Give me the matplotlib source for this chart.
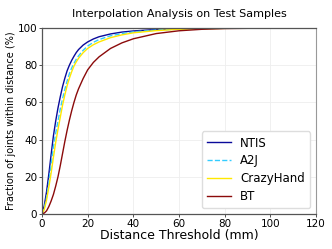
import matplotlib
matplotlib.use("Agg")
import matplotlib.pyplot as plt

# distance thresholds (mm) and fraction of joints within (%)
dist = [0, 1, 2, 3, 4, 5, 6, 7, 8, 9, 10, 11, 12, 13, 14, 15, 16, 18, 20, 22.5, 25, 30, 35, 40,
        50, 60, 70, 80, 100, 120]

ntis = [0, 4.5, 12, 21.5, 32, 42, 50, 57, 63, 68.5, 73, 77, 80, 82.6, 84.8, 86.8, 88.4, 90.8, 92.5,
        94.1, 95.3, 96.8, 97.8, 98.4, 99.2, 99.6, 99.8, 99.9, 100, 100]
a2j = [0, 3, 9, 17, 27, 36, 43.5, 50, 56.5, 62, 67, 71.5, 75.5, 78.5, 81, 83.2, 85, 88, 90.3, 92.3,
       93.8, 95.8, 97, 97.9, 98.9, 99.4, 99.7, 99.85, 99.95, 100]
crazyhand = [0, 2.5, 7.5, 14.5, 22, 30.5, 38.5, 45.5, 52, 58.5, 64, 69, 73, 76.5, 79.5, 81.8, 83.7,
             86.7, 89, 91, 92.5, 94.8, 96.3, 97.4, 98.6, 99.3, 99.6, 99.8, 99.95, 100]
bt = [0, 0.5, 1.7, 4, 7, 10.5, 15, 20, 26, 32.5, 39, 45, 50.5, 55.5, 60, 64, 67.3, 72.8, 77.5, 81.5,
      84.5, 89, 92, 94.2, 97, 98.5, 99.3, 99.7, 99.95, 100]

fig = plt.figure(figsize=(3.32, 2.49), dpi=100)
ax = fig.add_axes([0.1265, 0.1406, 0.8255, 0.747])

ax.plot(dist, ntis, color='#0a0a9a', lw=1.0, label='NTIS')
ax.plot(dist, a2j, color='#33ccff', lw=1.0, ls='--', label='A2J')
ax.plot(dist, crazyhand, color='#ffe800', lw=1.0, label='CrazyHand')
ax.plot(dist, bt, color='#8b0a0a', lw=1.0, label='BT')

ax.set_xlim(0, 120)
ax.set_ylim(0, 100)
ax.set_xticks(range(0, 121, 20))
ax.set_yticks(range(0, 101, 20))
ax.tick_params(labelsize=7.5, length=2, width=0.6, pad=1.5, colors='#333333', labelcolor='black')
ax.grid(True, color='#eeeeee', lw=0.6)
ax.set_axisbelow(True)

for side in ['left', 'bottom', 'top']:
    ax.spines[side].set_color('#555555')
    ax.spines[side].set_linewidth(0.9)
ax.spines['right'].set_color('#999999')
ax.spines['right'].set_linewidth(0.8)

ax.set_xlabel('Distance Threshold (mm)', fontsize=9, labelpad=0)
ax.set_ylabel('Fraction of joints within distance (%)', fontsize=7, labelpad=1)
ax.set_title('Interpolation Analysis on Test Samples', fontsize=8, pad=8)

ax.legend(loc='lower right', fontsize=8.5, handlelength=2.0, labelspacing=0.4,
          borderpad=0.45, handletextpad=0.8, borderaxespad=0.5, framealpha=1,
          edgecolor='#dddddd', fancybox=True)

plt.savefig('out.png', dpi=100)
